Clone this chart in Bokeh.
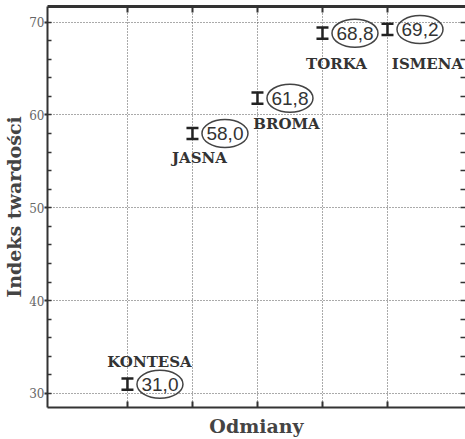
from bokeh.plotting import figure
from bokeh.models import ColumnDataSource, Range1d, LinearAxis, FixedTicker, Whisker, TeeHead
from bokeh.transform import dodge
from bokeh.core.properties import value
from bokeh.embed import file_html
from bokeh.resources import INLINE

# ---- data ----
categories = ["KONTESA", "JASNA", "BROMA", "TORKA", "ISMENA"]
hardness = [31.0, 58.0, 61.8, 68.8, 69.2]
errors = [0.6, 0.6, 0.6, 0.6, 0.6]
value_labels = ["31,0", "58,0", "61,8", "68,8", "69,2"]
y_ticks = [30, 40, 50, 60, 70]

# ---- label placement (screen px), style only ----
name_dx = [22, 7, 29, 14, 40]
name_dy = [-22, 25, 26, 31, 35]

xs = list(range(1, len(categories) + 1))
src = ColumnDataSource(dict(
    x=xs,
    y=hardness,
    upper=[v + e for v, e in zip(hardness, errors)],
    lower=[v - e for v, e in zip(hardness, errors)],
    vlab=value_labels,
    name=categories,
    ndx=name_dx,
    ndy=name_dy,
))

SERIF = "DejaVu Serif"
AX = "#333333"

p = figure(width=465, height=439,
           x_range=Range1d(-0.23, 6.2), y_range=Range1d(28.49, 71.67),
           output_backend="svg", toolbar_location=None,
           min_border_left=47, min_border_right=0, min_border_top=6, min_border_bottom=32)
p.outline_line_color = None
p.background_fill_color = "white"

# grid
p.xgrid.ticker = FixedTicker(ticks=xs)
p.ygrid.ticker = FixedTicker(ticks=y_ticks)
for g in (p.xgrid, p.ygrid):
    g.grid_line_color = "#555555"
    g.grid_line_dash = "1 2"
    g.grid_line_width = 1

minor = list(range(30, 72, 2))

# left axis
ya = p.yaxis[0]
ya.ticker = FixedTicker(ticks=y_ticks, minor_ticks=minor)
ya.axis_label = "Indeks twardości"
ya.axis_label_text_font = SERIF
ya.axis_label_text_font_style = "bold"
ya.axis_label_text_font_size = "19px"
ya.axis_label_text_color = "#444444"
ya.axis_label_standoff = 1
ya.major_label_text_font = SERIF
ya.major_label_text_font_size = "12px"
ya.major_label_text_color = "#666666"
ya.major_label_standoff = 0
ya.axis_line_width = 2
ya.axis_line_color = AX
ya.major_tick_in = 0
ya.major_tick_out = 3
ya.major_tick_line_width = 2
ya.major_tick_line_color = AX
ya.minor_tick_in = 4
ya.minor_tick_out = 0
ya.minor_tick_line_width = 1.5
ya.minor_tick_line_color = AX

# bottom axis: category ticks drawn as (label-less) minor ticks
xa = p.xaxis[0]
xa.ticker = FixedTicker(ticks=[], minor_ticks=xs)
xa.major_label_standoff = 0
xa.axis_label = "Odmiany"
xa.axis_label_text_font = SERIF
xa.axis_label_text_font_style = "bold"
xa.axis_label_text_font_size = "19px"
xa.axis_label_text_color = "#444444"
xa.axis_label_standoff = 7
xa.axis_line_width = 2
xa.axis_line_color = AX
xa.major_tick_line_color = None
xa.minor_tick_in = 6
xa.minor_tick_out = 0
xa.minor_tick_line_width = 2
xa.minor_tick_line_color = AX

# top axis
ta = LinearAxis(ticker=FixedTicker(ticks=[], minor_ticks=xs),
                major_label_standoff=0, axis_line_width=3, axis_line_color=AX,
                major_tick_line_color=None, minor_tick_in=6, minor_tick_out=0,
                minor_tick_line_width=2, minor_tick_line_color=AX)
p.add_layout(ta, "above")

# right axis (its line lies just outside the picture; only ticks show)
ra = LinearAxis(ticker=FixedTicker(ticks=[], minor_ticks=minor),
                major_label_standoff=0, axis_line_color=None,
                major_tick_line_color=None, minor_tick_in=5, minor_tick_out=0,
                minor_tick_line_color=AX, minor_tick_line_width=1.5)
p.add_layout(ra, "right")

# error bars
head_u = TeeHead(size=12, line_width=2.5, line_color="#222222")
head_l = TeeHead(size=12, line_width=2.5, line_color="#222222")
wh = Whisker(base="x", upper="upper", lower="lower", source=src, dimension="height",
             line_width=2.5, line_color="#222222", upper_head=head_u, lower_head=head_l)
p.add_layout(wh)

# value ellipses + labels
p.ellipse(x=dodge("x", 0.5), y="y", width=46, height=28,
          width_units="screen", height_units="screen",
          fill_color=None, line_color="#444444", line_width=1.5, source=src)
p.text(x=dodge("x", 0.5), y="y", text="vlab", source=src,
       text_align="center", text_baseline="middle",
       text_font=value("Liberation Sans"),
       text_font_size="19px", text_color="#333333")

# variety names
p.text(x="x", y="y", text="name", source=src, x_offset="ndx", y_offset="ndy",
       text_align="center", text_baseline="middle",
       text_font=value(SERIF), text_font_style="bold",
       text_font_size="15px", text_color="#333333")

open("out.html", "w").write(file_html(p, INLINE))
